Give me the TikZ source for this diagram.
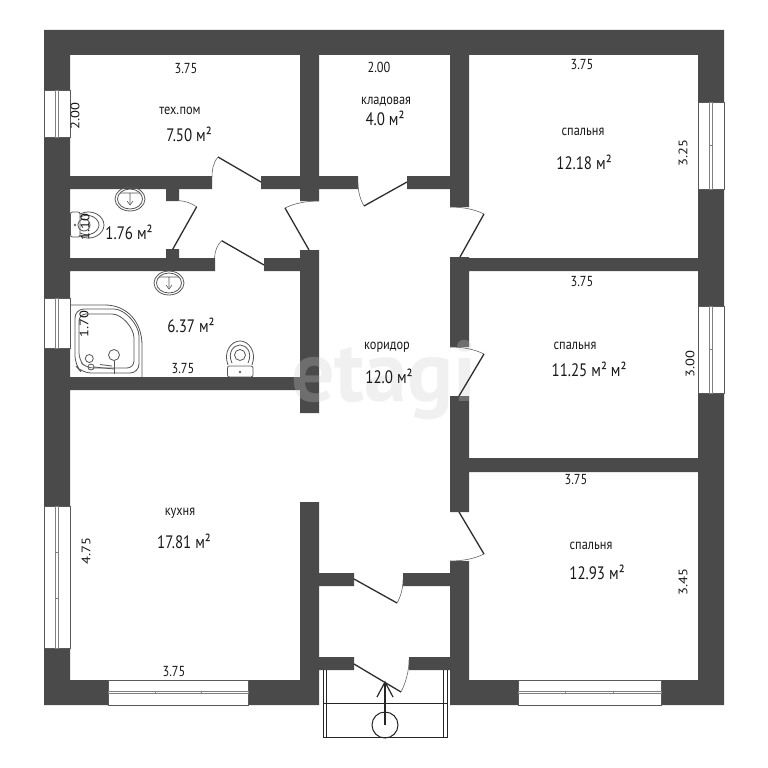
\documentclass[tikz,border=0pt]{standalone}
\usepackage{fontspec}
\setmainfont{PT Sans}
\definecolor{wallc}{HTML}{4A4A4A}
\definecolor{linec}{HTML}{2E2E2E}
\definecolor{fixc}{HTML}{555555}
\tikzset{
  wall/.style={fill=wallc,draw=none},
  winbox/.style={fill=white,draw=gray!70!black,line width=.7pt},
  winbar/.style={fill=white,draw=gray,line width=.7pt},
  leaf/.style={draw=linec,line width=1.3pt},
  swing/.style={draw=gray!80!black,line width=.6pt},
  fixture/.style={draw=fixc,line width=.8pt},
  porch/.style={draw=black!85,line width=1pt},
  dimlab/.style={text=black!90,font=\fontsize{14.5}{15}\selectfont,xscale=.85,inner sep=0pt,transform shape},
  namelab/.style={text=black!90,font=\fontsize{14.5}{15}\selectfont,xscale=.85,inner sep=0pt,transform shape},
  arealab/.style={text=black!90,font=\fontsize{18}{19}\selectfont,xscale=.83,inner sep=0pt,transform shape},
}
\begin{document}
\begin{tikzpicture}[x=1pt,y=-1pt]
\useasboundingbox (0,0) rectangle (768,768);
\fill[white] (0,0) rectangle (768,768);
% walls
\fill[wall]
  (44,30) rectangle (724,55)
  (44,30) rectangle (70,705)
  (698,30) rectangle (724,705)
  (44,680) rectangle (319,705)
  (450,680) rectangle (724,705)
  (300,55) rectangle (319,201)
  (300,250) rectangle (319,413)
  (300,502) rectangle (319,705)
  (450,55) rectangle (469,207)
  (450,257) rectangle (469,347)
  (450,396) rectangle (469,512)
  (450,561) rectangle (469,705)
  (70,176) rectangle (212,189)
  (261,176) rectangle (300,189)
  (319,176) rectangle (358,189)
  (407,176) rectangle (450,189)
  (70,258) rectangle (215,271)
  (264,258) rectangle (300,271)
  (469,258) rectangle (698,271)
  (70,377) rectangle (300,390)
  (469,458) rectangle (698,472)
  (166,189) rectangle (179,201)
  (166,249) rectangle (179,258)
  (319,573) rectangle (354,586)
  (403,573) rectangle (450,586)
  (319,657) rectangle (354,670)
  (409,657) rectangle (450,670);
% windows, left
\draw[winbox] (44,90) rectangle (70,137);
\draw[winbar] (55.5,90) rectangle (58.5,137);
\draw[winbox] (44,298) rectangle (70,348);
\draw[winbar] (55.5,298) rectangle (58.5,348);
\draw[winbox] (44,506) rectangle (70,648);
\draw[winbar] (55.5,506) rectangle (58.5,648);
\draw[winbar] (55.5,552) -- (58.5,552) (55.5,598) -- (58.5,598);
% windows, right
\draw[winbox] (698,102) rectangle (724,189);
\draw[winbar] (709.5,102) rectangle (712.5,189);
\draw[winbar] (709.5,145) -- (712.5,145);
\draw[winbox] (698,306) rectangle (724,393);
\draw[winbar] (709.5,306) rectangle (712.5,393);
\draw[winbar] (709.5,349) -- (712.5,349);
% windows, bottom
\draw[winbox] (108,680) rectangle (248,705);
\draw[winbar] (108,691) rectangle (248,693.5);
\draw[winbar] (155,691) -- (155,693.5) (201,691) -- (201,693.5);
\draw[winbox] (518,680) rectangle (661,705);
\draw[winbar] (518,691) rectangle (661,693.5);
\draw[winbar] (565,691) -- (565,693.5) (613,691) -- (613,693.5);
% watermark
\node[name=wm,text=gray!40,opacity=.28,inner sep=0pt,font=\bfseries\fontsize{86}{88}\selectfont] at (384,380) {etagi};
% doors
\draw[leaf] (261,182) -- (218,157);
\draw[swing] (218,157) .. controls (213,163) and (212,170) .. (212,177);
\draw[leaf] (172.7,249.3) -- (196.7,206.7);
\draw[swing] (196.7,206.7) .. controls (191,203) and (185,201) .. (178,200.5);
\draw[leaf] (264,265) -- (221.7,240.7);
\draw[swing] (221.7,240.7) .. controls (217,245) and (215,251) .. (214.5,258);
\draw[leaf] (309,250) -- (285,208);
\draw[swing] (285,208) .. controls (295,203) and (307,201) .. (319,201);
\draw[leaf] (407,182) -- (364,206);
\draw[swing] (364,206) .. controls (360,199) and (358,191) .. (358,183);
\draw[leaf] (460,257) -- (484,214);
\draw[swing] (484,214) .. controls (474,209) and (462,207) .. (450,207);
\draw[leaf] (459,396) -- (484,354);
\draw[swing] (484,354) .. controls (474,349) and (462,347) .. (450,347);
\draw[leaf] (459,512) -- (484,554);
\draw[swing] (484,554) .. controls (474,559) and (462,561) .. (450,561);
\draw[leaf] (354,579) -- (397,603);
\draw[swing] (397,603) .. controls (401,596) and (403,588) .. (403,580);
% porch
\draw[porch] (323,670) -- (323,737) -- (447,737) -- (447,670);
\draw[porch] (326.5,670) -- (326.5,737);
\draw[porch] (443.5,670) -- (443.5,737);
\draw[porch] (323,703.5) -- (447,703.5);
\draw[porch] (385,725) circle (13);
\draw[porch,line width=1.2pt] (385,725) -- (385,682);
\draw[porch,line width=1.2pt] (377,697) -- (385,682) -- (393,697);
\draw[leaf] (354,664) -- (401,692);
\draw[swing] (401,692) .. controls (406,682) and (409,671) .. (409,660);
% sinks
\draw[fixture] (130,199) ellipse (15 and 12);
\draw[fixture] (130,199) ellipse (12.5 and 10);
\draw[fixture,line width=.6pt] (120,193) -- (140,193) (130,193) -- (130,203) (127,201) -- (130,205) -- (133,201);
\draw[fixture] (169,283) ellipse (15 and 12);
\draw[fixture] (169,283) ellipse (12.5 and 10);
\draw[fixture,line width=.6pt] (159,277) -- (179,277) (169,277) -- (169,287) (166,285) -- (169,289) -- (172,285);
% toilet, small wc
\draw[fixture,rounded corners=2pt] (70.5,212) rectangle (80,237);
\draw[fixture] (80,214) .. controls (92,208) and (104,216) .. (104,225) .. controls (104,234) and (92,242) .. (80,236);
\draw[fixture] (80,217) .. controls (90,212) and (99,219) .. (99,225) .. controls (99,231) and (90,238) .. (80,233);
\draw[fixture] (84,225) circle (6);
\draw[fixture,line width=.5pt] (75,225) circle (1);
% toilet, bath
\draw[fixture,rounded corners=2pt] (227.5,366) rectangle (253,377);
\draw[fixture,fill=white] (228,365) .. controls (223,352) and (231,341) .. (240,341) .. controls (249,341) and (257,352) .. (252,365);
\draw[fixture] (232,363) .. controls (227,352) and (234,345) .. (240,345) .. controls (246,345) and (253,352) .. (248,363);
\draw[fixture] (240,355) circle (5.5);
\draw[fixture,line width=.5pt] (240,372) circle (1);
% shower
\draw[fixture] (70,305) -- (105,305) .. controls (127,305) and (142,322) .. (142,345) -- (142,377);
\draw[fixture,rounded corners=9pt] (75,309) -- (105,309) .. controls (125,309) and (139,325) .. (139,345) -- (139,373) -- (82,373) -- (75,365) -- cycle;
\draw[fixture,rounded corners=7pt] (79,314) -- (105,314) .. controls (122,314) and (134,328) .. (134,345) -- (134,368) -- (86,368) -- (79,360) -- cycle;
\draw[fixture] (89.3,358.5) circle (4);
\draw[fixture] (114,355) circle (5.5);
\draw[fixture] (114,360.5) -- (114,374);
\draw[fixture] (91,367) circle (3);
\draw[fixture] (94,367) -- (114,369) (100,364.5) -- (112,366);
% labels
\node[dimlab] (a1) at (186,69) {3.75};
\node[dimlab,rotate=90] (a2) at (75,116) {2.00};
\node[namelab] (a3) at (180,110.5) {тех.пом};
\node[arealab] (a4) at (189,134) {7.50 м²};
\node[dimlab] (b1) at (379,67) {2.00};
\node[namelab] (b2) at (386,101.5) {кладовая};
\node[arealab] (b3) at (385,118) {4.0 м²};
\node[dimlab] (c1) at (582,65) {3.75};
\node[namelab] (c2) at (583,131.5) {спальня};
\node[arealab] (c3) at (584,162) {12.18 м²};
\node[dimlab,rotate=90] (c4) at (683,153) {3.25};
\node[dimlab,rotate=90] (d1) at (85,227) {1.10};
\node[arealab] (d2) at (129,232) {1.76 м²};
\node[arealab] (e1) at (191,325) {6.37 м²};
\node[dimlab,rotate=90] (e2) at (84,324) {1.70};
\node[dimlab] (e3) at (183,369) {3.75};
\node[dimlab] (f1) at (582,282) {3.75};
\node[namelab] (f2) at (575,345.5) {спальня};
\node[arealab] (f3) at (589,369) {11.25 м² м²};
\node[dimlab,rotate=90] (f4) at (690,364) {3.00};
\node[namelab] (g1) at (387,347) {коридор};
\node[arealab] (g2) at (389,376) {12.0 м²};
\node[dimlab] (h1) at (576,480) {3.75};
\node[namelab] (h2) at (591,545.5) {спальня};
\node[arealab] (h3) at (597,572) {12.93 м²};
\node[dimlab,rotate=90] (h4) at (683,582) {3.45};
\node[namelab] (i1) at (180,513.5) {кухня};
\node[arealab] (i2) at (184,541) {17.81 м²};
\node[dimlab,rotate=90] (i3) at (86,551) {4.75};
\node[dimlab] (i4) at (174,672) {3.75};
\end{tikzpicture}
\end{document}
